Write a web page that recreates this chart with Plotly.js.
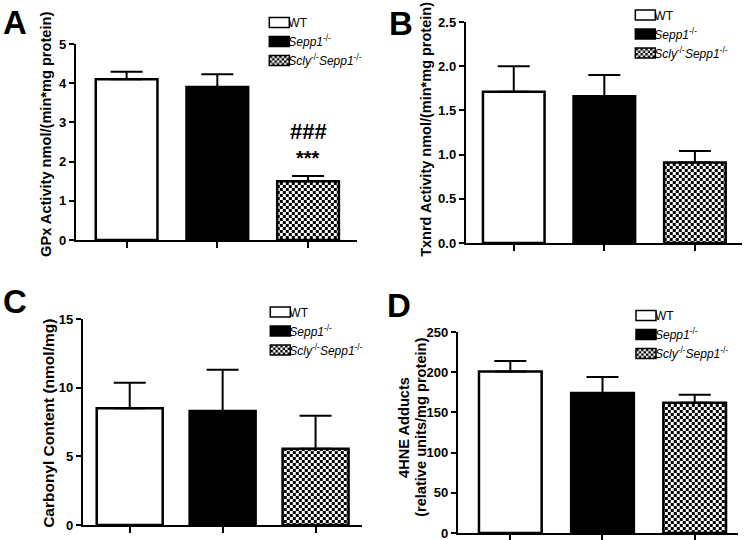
<!DOCTYPE html>
<html>
<head>
<meta charset="utf-8">
<script src="https://cdn.plot.ly/plotly-3.0.1.min.js"></script>
<style>html,body{margin:0;padding:0;background:#fff;}#g{width:745px;height:540px;}</style>
</head>
<body>
<div id="g"></div>
<script>
// ---- data ----
const groups = ['WT', 'Sepp1-/-', 'Scly-/-Sepp1-/-'];
const legendNames = ['WT', '<i>Sepp1</i><sup>-/-</sup>', '<i>Scly</i><sup>-/-</sup><i>Sepp1</i><sup>-/-</sup>'];
const gpxMean = [4.1, 3.9, 1.5];
const gpxErr = [0.19, 0.33, 0.13];
const txnrdMean = [1.71, 1.66, 0.91];
const txnrdErr = [0.29, 0.24, 0.13];
const carbonylMean = [8.5, 8.3, 5.55];
const carbonylErr = [1.85, 3.0, 2.4];
const hneMean = [201, 174, 162];
const hneErr = [13, 20, 10];
const yTitles = [['GPx Activity nmol/(min*mg protein)'], ['Txnrd Activity nmol/(min*mg protein)'],
  ['Carbonyl Content (nmol/mg)'], ['4HNE Adducts', '(relative units/mg protein)']];
const panelLetters = ['A', 'B', 'C', 'D'];
const sigMarks = ['###', '***'];
const sigLevels = [2.78, 2.08];

// ---- layout helpers ----
const W = 745, H = 540;
const dx = (a, b) => [a / W, b / W];
const dy = (top, bot) => [1 - bot / H, 1 - top / H];
const FONT = 'Liberation Sans, Arial, Helvetica, sans-serif';

const panels = [
  {mean: gpxMean, err: gpxErr, xd: [76, 358], yd: [44, 240], xr: [-0.56, 2.54], yr: [0, 5], dt: 1, fmt: 'd', w: 0.68, tt: [46, 134, 14.6], leg: [260, 8], letter: [15, 22]},
  {mean: txnrdMean, err: txnrdErr, xd: [467, 744], yd: [22, 243], xr: [-0.53, 2.52], yr: [0, 2.5], dt: 0.5, fmt: '.1f', w: 0.68, tt: [427, 129, 14.5], leg: [627, 0.5], letter: [402, 24]},
  {mean: carbonylMean, err: carbonylErr, xd: [83, 363], yd: [319, 525], xr: [-0.505, 2.5], yr: [0, 15], dt: 5, fmt: 'd', w: 0.71, tt: [48, 423, 15.5], leg: [261, 297.5], letter: [15, 301]},
  {mean: hneMean, err: hneErr, xd: [459, 740], yd: [332, 533], xr: [-0.57, 2.47], yr: [0, 250], dt: 50, fmt: 'd', w: 0.68, tt: [405, 427, 14.6], leg: [628, 301], letter: [400, 305]}
];

const data = [];
const layout = {
  width: W, height: H,
  margin: {l: 0, r: 0, t: 0, b: 0},
  paper_bgcolor: '#fff', plot_bgcolor: 'rgba(0,0,0,0)',
  barmode: 'overlay',
  font: {family: FONT, color: '#000'},
  annotations: []
};

panels.forEach((p, i) => {
  const n = i + 1;
  const xa = n === 1 ? 'x' : 'x' + n;
  const ya = n === 1 ? 'y' : 'y' + n;
  const lg = n === 1 ? 'legend' : 'legend' + n;
  groups.forEach((g, k) => {
    const marker = {line: {color: '#000', width: 2.5}};
    if (k === 0) marker.color = '#fff';
    else if (k === 1) marker.color = '#000';
    else {
      marker.color = '#fff';
      marker.pattern = {shape: '.', fgcolor: '#000', bgcolor: '#fff', size: 6, solidity: 0.5, fillmode: 'overlay'};
    }
    data.push({
      type: 'bar', x: [k], y: [p.mean[k]], width: [p.w],
      name: legendNames[k], xaxis: xa, yaxis: ya, legend: lg,
      marker: marker,
      error_y: {type: 'data', symmetric: false, array: [p.err[k]], arrayminus: [0], color: '#000', thickness: 2, width: 16},
      hoverinfo: 'skip'
    });
  });
  const xk = n === 1 ? 'xaxis' : 'xaxis' + n;
  const yk = n === 1 ? 'yaxis' : 'yaxis' + n;
  layout[xk] = {
    domain: dx(p.xd[0], p.xd[1]), anchor: ya, range: p.xr,
    showline: true, linecolor: '#000', linewidth: 2,
    ticks: 'outside', ticklen: 6, tickwidth: 2, tickcolor: '#000',
    tickvals: [0, 1, 2], showticklabels: false,
    showgrid: false, zeroline: false, fixedrange: true
  };
  layout[yk] = {
    domain: dy(p.yd[0], p.yd[1]), anchor: xa, range: p.yr,
    showline: true, linecolor: '#000', linewidth: 2,
    ticks: 'outside', ticklen: 5, tickwidth: 2, tickcolor: '#000',
    dtick: p.dt, tick0: 0, tickformat: p.fmt, ticklabeloverflow: 'allow',
    tickfont: {family: FONT, size: 13, weight: 'bold', color: '#000'},
    showgrid: false, zeroline: false, fixedrange: true
  };
  layout[lg] = {
    x: p.leg[0] / W, y: 1 - p.leg[1] / H, xanchor: 'left', yanchor: 'top',
    font: {family: FONT, size: 12, color: '#000'},
    bgcolor: 'rgba(0,0,0,0)', borderwidth: 0, tracegroupgap: 0, itemwidth: 30
  };
  // y-axis title (one rotated annotation per line, 17px apart)
  yTitles[i].forEach((line, li) => {
    layout.annotations.push({
      text: line, xref: 'paper', yref: 'paper', textangle: -90,
      x: (p.tt[0] + li * 17) / W, y: 1 - p.tt[1] / H, xanchor: 'center', yanchor: 'middle',
      showarrow: false, font: {family: FONT, size: p.tt[2], weight: 'bold', color: '#000'}
    });
  });
  // panel letter
  layout.annotations.push({
    text: panelLetters[i], xref: 'paper', yref: 'paper',
    x: p.letter[0] / W, y: 1 - p.letter[1] / H, xanchor: 'center', yanchor: 'middle',
    showarrow: false, font: {family: FONT, size: 33, weight: 'bold', color: '#000'}
  });
});

// significance marks on panel A (over third group)
sigMarks.forEach((m, j) => {
  layout.annotations.push({
    text: m, xref: 'x', yref: 'y', x: 2, y: sigLevels[j],
    showarrow: false, xanchor: 'center', yanchor: 'middle',
    font: {family: FONT, size: j === 0 ? 22 : 20, weight: 'bold', color: '#000'}
  });
});

const gd = document.getElementById('g');
const ns = 'http://www.w3.org/2000/svg';
const SQ = 'M6,6H-6V-6H6Z';
const SW = 'M10,5H-10V-5H10Z';
function setAttr(el, k, v) { if (el.getAttribute(k) !== String(v)) el.setAttribute(k, v); }
function restyleDom() {
  // checkerboard texture for the patterned fill
  gd.querySelectorAll('pattern').forEach(function (pat) {
    if (pat.getAttribute('data-cb')) return;
    const s = 6;
    pat.setAttribute('data-cb', '1');
    pat.setAttribute('width', s);
    pat.setAttribute('height', s);
    pat.setAttribute('patternUnits', 'userSpaceOnUse');
    while (pat.firstChild) pat.removeChild(pat.firstChild);
    [[0, 0, s, s, '#fff'], [0, 0, s / 2, s / 2, '#000'], [s / 2, s / 2, s / 2, s / 2, '#000']].forEach(function (r) {
      const e = document.createElementNS(ns, 'rect');
      e.setAttribute('x', r[0]); e.setAttribute('y', r[1]);
      e.setAttribute('width', r[2]); e.setAttribute('height', r[3]);
      e.setAttribute('fill', r[4]);
      pat.appendChild(e);
    });
  });
  // wide rectangular legend swatches and text closer to swatch, in every legend
  gd.querySelectorAll('g.traces path').forEach(function (p) {
    const d = (p.getAttribute('d') || '').replace(/\s/g, '');
    if (d === SQ || d === SW) {
      setAttr(p, 'd', SW);
      if (p.style.strokeWidth !== '1.5px') p.style.strokeWidth = '1.5px';
    }
  });
  gd.querySelectorAll('g.traces text').forEach(function (t) {
    setAttr(t, 'x', 29);
    t.querySelectorAll('tspan.line').forEach(function (s) { setAttr(s, 'x', 29); });
  });
}
let busy = false;
const obs = new MutationObserver(function () {
  if (busy) return;
  busy = true;
  try { restyleDom(); } finally { busy = false; }
});
obs.observe(gd, {subtree: true, childList: true, attributes: true, attributeFilter: ['d', 'x', 'transform']});
Plotly.newPlot(gd, data, layout, {staticPlot: true, displayModeBar: false}).then(function () {
  restyleDom();
  requestAnimationFrame(restyleDom);
  setTimeout(restyleDom, 0);
});
</script>
</body>
</html>
